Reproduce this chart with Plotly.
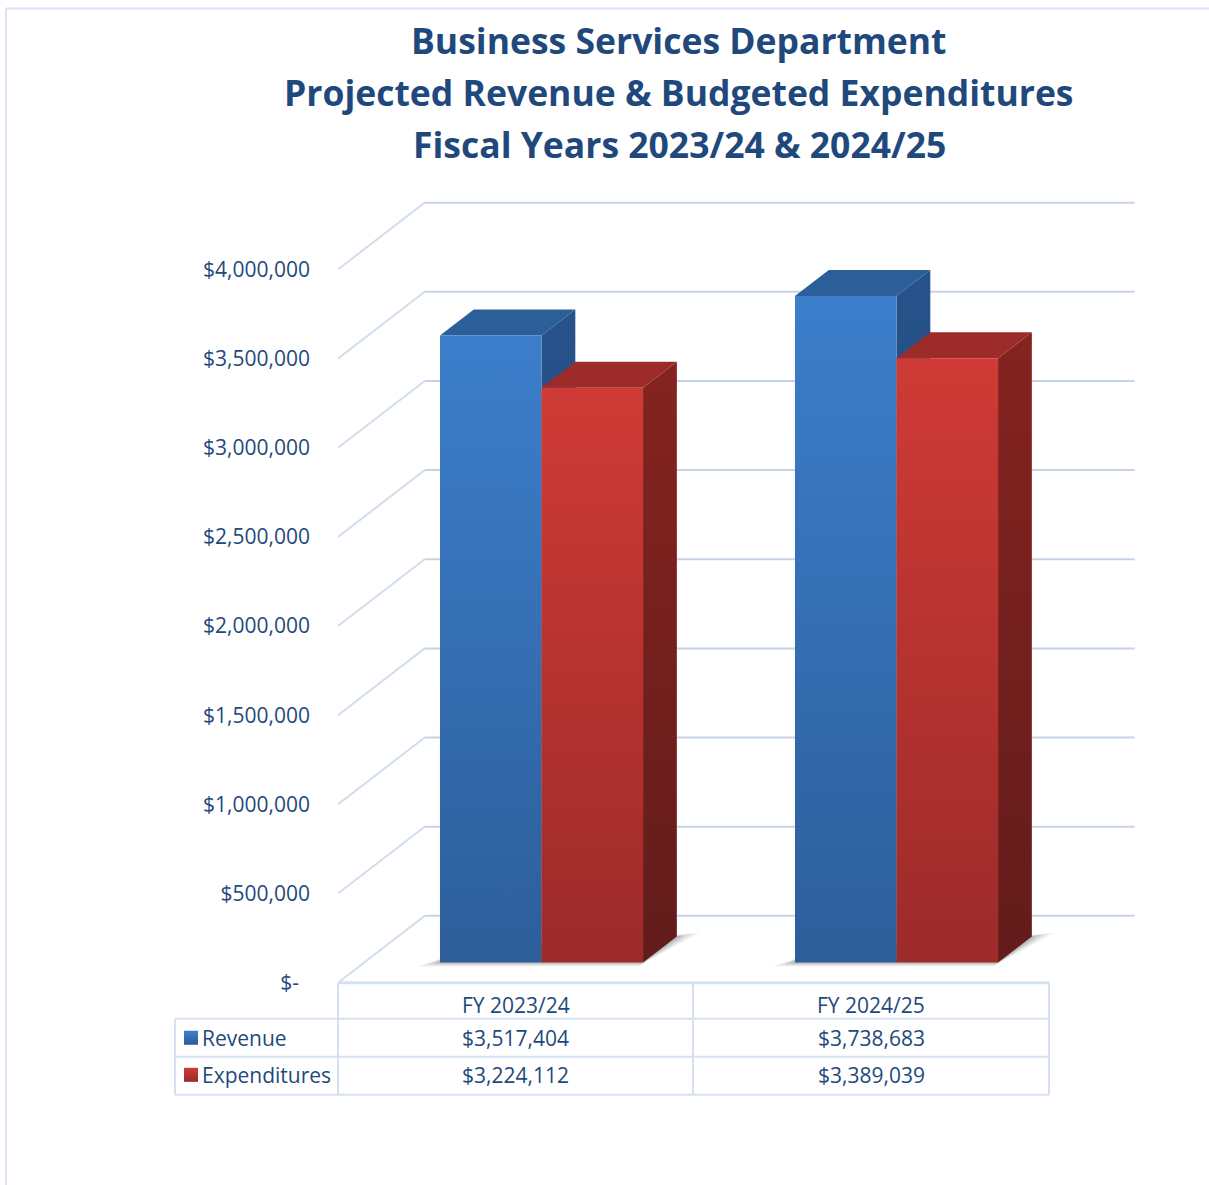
import plotly.graph_objects as go

# ---- data -------------------------------------------------------------
categories = ["FY 2023/24", "FY 2024/25"]
series_names = ["Revenue", "Expenditures"]
revenue = [3517404, 3738683]
expenditures = [3224112, 3389039]
tick_values = [0, 500000, 1000000, 1500000, 2000000, 2500000,
               3000000, 3500000, 4000000]
title_lines = [
    "Business Services Department",
    "Projected Revenue & Budgeted Expenditures",
    "Fiscal Years 2023/24 & 2024/25",
]

# ---- geometry ----------------------------------------------------------
# Layout positions below are given on a 1209 x 1185 grid; the figure itself
# is drawn slightly taller and the grid is mapped onto it through paper units.
W, H = 1209, 1185
FIG_H = 1200
PL, PR, PT, PB = 338, 1160, 190, 981      # plot area (grid pixels)
CAT_PX = 355.0                            # pixels per category on the front edge
VAL_PX = 89.0 / 500000                    # pixels per dollar
X_MAX = (PR - PL) / CAT_PX
Y_MAX = (PB - PT) / VAL_PX

DEPTH_X = 86.7 / CAT_PX                   # oblique depth offset (x units)
DEPTH_V = 66.7 / VAL_PX                   # oblique depth offset (value units)
BAR_W = 0.286
D_FRONT, D_BACK = 0.30, 0.69

TEXT = "#1F497D"
FONT = "Open Sans"
GRID = "#c6d3e7"
DIAG = "#d2ddee"
TABLE_LINE = "#d5e1f2"

styles = {
    "Revenue": dict(front=("#2D5E9A", "#3C7ECB"), top="#2C5E99",
                    side=("#1E406C", "#27528B")),
    "Expenditures": dict(front=("#9C2B2A", "#CF3A36"), top="#9C2B2A",
                         side=("#621C1B", "#85231F")),
}


def proj(x, v, d):
    return x + d * DEPTH_X, v + d * DEPTH_V


def px_x(px):
    return px / W


def px_y(py):
    return 1 - py / H


fig = go.Figure()


def add_poly(pts, color=None, grad=None):
    xs, ys = zip(*[proj(*p) for p in pts])
    xs = list(xs) + [xs[0]]
    ys = list(ys) + [ys[0]]
    kw = dict(x=xs, y=ys, mode="lines", fill="toself",
              line=dict(width=0, color="rgba(0,0,0,0)"),
              hoverinfo="skip", showlegend=False)
    if grad:
        kw["fillgradient"] = dict(type="vertical",
                                  colorscale=[[0, grad[0]], [1, grad[1]]])
    else:
        kw["fillcolor"] = color
    fig.add_trace(go.Scatter(**kw))


# ---- back wall grid and side-wall diagonals ---------------------------
shapes = []
for v in tick_values:
    x0, y0 = proj(0, v, 0)
    x1, y1 = proj(0, v, 1)
    x2, y2 = proj(len(categories), v, 1)
    shapes.append(dict(type="line", xref="x", yref="y", x0=x0, y0=y0,
                       x1=x1, y1=y1, line=dict(color=DIAG, width=2),
                       layer="below"))
    shapes.append(dict(type="line", xref="x", yref="y", x0=x1, y0=y1,
                       x1=x2, y1=y2, line=dict(color=GRID, width=2),
                       layer="below"))

# ---- bars ---------------------------------------------------------------
series_values = [revenue, expenditures]
for i, cat in enumerate(categories):
    left = i + 0.5 - BAR_W
    right = i + 0.5 + BAR_W
    # soft floor shadow
    for e, a in [(18, 0.06), (13, 0.08), (8, 0.10), (4, 0.12)]:
        ex = e / CAT_PX
        ddf = e * 0.22 / 66.7
        add_poly([(left - ex, 0, D_FRONT - ddf), (right, 0, D_FRONT - ddf),
                  (right + ex, 0, D_BACK + ddf), (left, 0, D_FRONT + 0.1)],
                 color=f"rgba(40,40,40,{a})")
    for j, name in enumerate(series_names):
        v = series_values[j][i]
        st = styles[name]
        xa = left + j * BAR_W
        xb = xa + BAR_W
        add_poly([(xb, 0, D_FRONT), (xb, 0, D_BACK), (xb, v, D_BACK),
                  (xb, v, D_FRONT)], grad=st["side"])
        add_poly([(xa, v, D_FRONT), (xb, v, D_FRONT), (xb, v, D_BACK),
                  (xa, v, D_BACK)], color=st["top"])
        add_poly([(xa, 0, D_FRONT), (xb, 0, D_FRONT), (xb, v, D_FRONT),
                  (xa, v, D_FRONT)], grad=st["front"])

# ---- data table under the chart -----------------------------------------
col_edges = [175, 338, 693, 1049]
row_edges = [981, 1017, 1055, 1093]


def pline(x0, y0, x1, y1, width=2, color=TABLE_LINE):
    shapes.append(dict(type="line", xref="paper", yref="paper",
                       x0=px_x(x0), y0=px_y(y0), x1=px_x(x1), y1=px_y(y1),
                       line=dict(color=color, width=width)))


pline(col_edges[1], row_edges[0], col_edges[3], row_edges[0], width=3)
for r in row_edges[1:]:
    pline(col_edges[0], r, col_edges[3], r)
pline(col_edges[0], row_edges[1], col_edges[0], row_edges[3])
for c in col_edges[1:]:
    pline(c, row_edges[0], c, row_edges[3])

# chart area border
pline(6, 8.5, W, 8.5, width=2, color="#d9e4f4")
pline(6, 8.5, 6, H, width=2, color="#d9e4f4")

annotations = []


def ptext(txt, px, py, size=21, bold=False, xanchor="center"):
    annotations.append(dict(
        text=f"<b>{txt}</b>" if bold else txt, xref="paper", yref="paper",
        x=px_x(px), y=px_y(py), xanchor=xanchor, yanchor="middle",
        showarrow=False, font=dict(family=FONT, size=size, color=TEXT)))


def mix(c1, c2, t):
    a = [int(c1[k:k + 2], 16) for k in (1, 3, 5)]
    b = [int(c2[k:k + 2], 16) for k in (1, 3, 5)]
    return "#" + "".join(f"{round(a[k] + (b[k] - a[k]) * t):02x}"
                         for k in range(3))


text_rows = [1036, 1073]
for ci, cat in enumerate(categories):
    cx = (col_edges[ci + 1] + col_edges[ci + 2]) / 2
    ptext(cat, cx, 1003)
    for j in range(len(series_names)):
        ptext(f"${series_values[j][ci]:,}", cx, text_rows[j])

# legend keys: small squares shaded top to bottom
for j, name in enumerate(series_names):
    ty = text_rows[j]
    lo, hi = styles[name]["front"]
    n = 7
    for k in range(n):
        y0 = ty - 7 + k * 2
        y1 = min(y0 + 3, ty + 7)
        shapes.append(dict(type="rect", xref="paper", yref="paper",
                           x0=px_x(184), x1=px_x(198),
                           y0=px_y(y0), y1=px_y(y1),
                           fillcolor=mix(hi, lo, k / (n - 1)),
                           line=dict(width=0)))
    ptext(name, 200, ty, xanchor="left")

# ---- title --------------------------------------------------------------
for line, cy in zip(title_lines, [40, 92, 144]):
    ptext(line, 679, cy, size=35.5, bold=True)

tick_text = ["$-\u00a0\u00a0" if v == 0 else f"${v:,}" for v in tick_values]

fig.update_layout(
    width=W, height=FIG_H, autosize=False,
    margin=dict(l=0, r=0, t=0, b=0),
    paper_bgcolor="white", plot_bgcolor="white",
    showlegend=False,
    xaxis=dict(domain=[PL / W, PR / W], range=[0, X_MAX], visible=False,
               fixedrange=True),
    yaxis=dict(domain=[1 - PB / H, 1 - PT / H], range=[0, Y_MAX],
               tickvals=tick_values, ticktext=tick_text,
               showgrid=False, zeroline=False, showline=False, ticks="",
               ticklabelstandoff=27,
               tickfont=dict(family=FONT, size=21, color=TEXT),
               fixedrange=True),
    shapes=shapes,
    annotations=annotations,
)

fig.write_html("out.html", config={"displayModeBar": False})
